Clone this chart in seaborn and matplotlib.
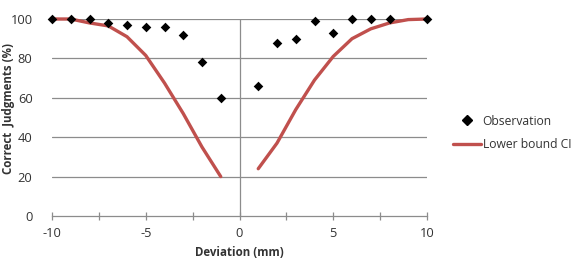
import matplotlib
matplotlib.use("Agg")
import matplotlib.pyplot as plt
import seaborn as sns
import pandas as pd
from matplotlib.lines import Line2D
from matplotlib.ticker import MultipleLocator

# Data
obs_x = [-10, -9, -8, -7, -6, -5, -4, -3, -2, -1, 1, 2, 3, 4, 5, 6, 7, 8, 10]
obs_y = [100, 100, 100, 98, 97, 96, 96, 92, 78, 60, 66, 88, 90, 99, 93, 100, 100, 100, 100]

ci_left_x = [-10, -9, -8, -7, -6, -5, -4, -3, -2, -1]
ci_left_y = [100, 100, 98, 96.5, 91, 81.5, 67.5, 52, 35, 20]
ci_right_x = [1, 2, 3, 4, 5, 6, 7, 8, 9, 10]
ci_right_y = [24, 37, 54, 69, 81, 90, 95, 98, 99.7, 100]

x_ticks = [-10, -5, 0, 5, 10]
y_ticks = [0, 20, 40, 60, 80, 100]

sns.set_theme(style="white")
plt.rcParams['font.family'] = ['Open Sans', 'DejaVu Sans']

fig = plt.figure(figsize=(5.71, 2.63), dpi=100)
ax = fig.add_axes([52/571, 1-216/263, (427-52)/571, (216-19)/263])

red = "#C0504D"
grid_c = "#8C8C8C"
txt_c = "#333333"

for yv in y_ticks[1:]:
    ax.axhline(yv, color=grid_c, lw=0.9, zorder=0)
ax.axvline(0, color=grid_c, lw=0.9, zorder=0)

df_l = pd.DataFrame({"x": ci_left_x, "y": ci_left_y})
df_r = pd.DataFrame({"x": ci_right_x, "y": ci_right_y})
sns.lineplot(data=df_l, x="x", y="y", ax=ax, color=red, lw=2.4, zorder=2, clip_on=False)
sns.lineplot(data=df_r, x="x", y="y", ax=ax, color=red, lw=2.4, zorder=2, clip_on=False)

df_o = pd.DataFrame({"x": obs_x, "y": obs_y})
sns.scatterplot(data=df_o, x="x", y="y", ax=ax, marker="D", color="black", s=24,
                edgecolor="black", linewidth=0, zorder=3, clip_on=False)

ax.set_xlim(-10, 10)
ax.set_ylim(0, 100)
ax.set_xticks(x_ticks)
ax.set_xticklabels([str(v) for v in x_ticks])
ax.xaxis.set_minor_locator(MultipleLocator(2.5))
ax.set_yticks(y_ticks)
ax.set_yticklabels([str(v) for v in y_ticks])

for s in ["left", "right", "top"]:
    ax.spines[s].set_visible(False)
ax.spines["bottom"].set_color(grid_c)
ax.spines["bottom"].set_linewidth(0.9)

ax.tick_params(axis="x", which="both", direction="inout", length=6, width=0.9,
               color=grid_c, bottom=True, labelsize=9.3, labelcolor=txt_c, pad=5)
ax.tick_params(axis="y", which="both", left=False, labelsize=9.3, labelcolor=txt_c, pad=8)

ax.set_xlabel("Deviation (mm)", fontsize=8.3, fontweight="bold", color=txt_c)
ax.xaxis.set_label_coords(0.5, -(246-216)/197)
ax.set_ylabel("Correct  Judgments (%)", fontsize=8.3, fontweight="bold", color=txt_c)
ax.yaxis.set_label_coords(-(52-15)/375, (216-108)/197)

handles = [
    Line2D([0], [0], marker="D", color="black", linestyle="none", markersize=4.6),
    Line2D([0], [0], color=red, lw=2.4),
]
fig.legend(handles, ["Observation", "Lower bound CI"], loc="center left",
           bbox_to_anchor=(453/571, 1-133/263), frameon=False, fontsize=8.7,
           handlelength=2.3, handletextpad=0.15, labelspacing=0.9,
           borderpad=0, borderaxespad=0, labelcolor=txt_c)

fig.savefig("out.png", dpi=100)
